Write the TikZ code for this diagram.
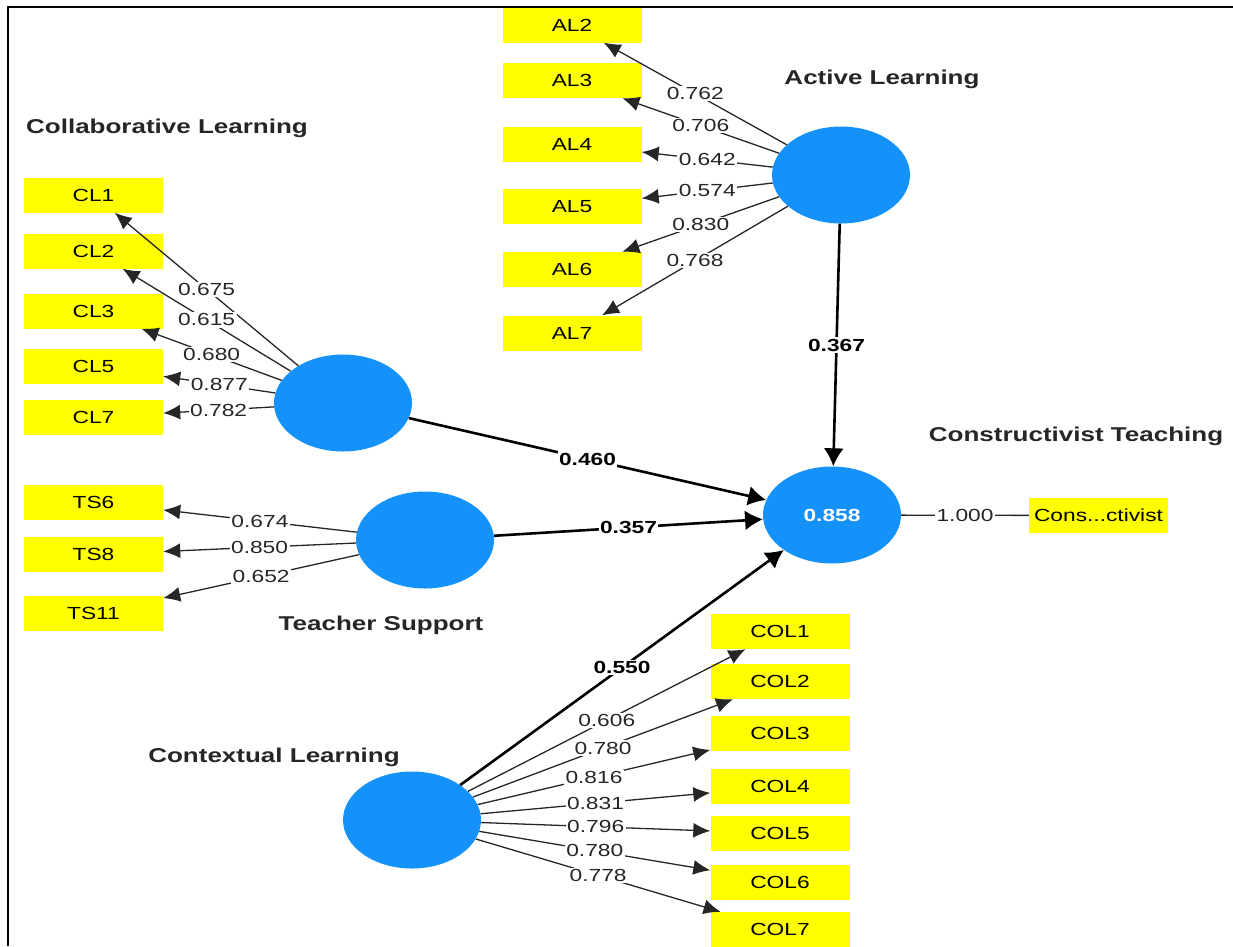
\documentclass[tikz,border=0pt]{standalone}
\usepackage{fontspec}
\setmainfont[FakeStretch=1.3]{Liberation Sans}
\usetikzlibrary{shapes.geometric,arrows.meta}
\definecolor{latblue}{RGB}{20,146,250}
\definecolor{indyellow}{RGB}{255,255,0}
\begin{document}
\begin{tikzpicture}[x=1pt,y=-1pt,
 lat/.style={ellipse,fill=latblue,minimum width=138pt,minimum height=97pt,inner sep=0pt},
 ind/.style={rectangle,fill=indyellow,minimum width=139pt,minimum height=35pt,inner sep=0pt,font=\fontsize{17.5}{20}\selectfont},
 ttl/.style={font=\fontsize{20}{24}\selectfont\bfseries,text=black!85},
 lbl/.style={fill=white,inner sep=1.5pt,font=\fontsize{17.5}{20}\selectfont,text=black!85},
 blbl/.style={fill=white,inner sep=1.5pt,font=\fontsize{17.5}{20}\selectfont\bfseries},
 ld/.style={draw=black!85,line width=1.3pt,-{Latex[length=17pt,width=15pt]}},
 sp/.style={draw=black,line width=2.6pt,-{Latex[length=18pt,width=20pt]}},
 plain/.style={draw=black!85,line width=1.3pt},
 frame/.style={draw=black,line width=2pt}
]
\useasboundingbox (0,0) rectangle (1233,946);
\draw[frame] (8,946) -- (8,6.5) -- (1233,6.5);

% latent variables
\node[lat] (AL) at (841,175) {};
\node[lat] (CL) at (343,403) {};
\node[lat] (TS) at (425,540) {};
\node[lat] (CT) at (832,515) {\fontsize{17.5}{20}\selectfont\bfseries\color{white}0.858};
\node[lat] (COL) at (412,820) {};

% titles
\node[ttl] (tAL) at (882,79) {Active Learning};
\node[ttl] (tCL) at (167,128) {Collaborative Learning};
\node[ttl] (tTS) at (381,625) {Teacher Support};
\node[ttl] (tCOL) at (274,757) {Contextual Learning};
\node[ttl] (tCT) at (1076,436) {Constructivist Teaching};

% indicators
\node[ind] (AL2) at (572,25) {AL2};
\node[ind] (AL3) at (572,80.5) {AL3};
\node[ind] (AL4) at (572,144) {AL4};
\node[ind] (AL5) at (572,206.5) {AL5};
\node[ind] (AL6) at (572,269.5) {AL6};
\node[ind] (AL7) at (572,333) {AL7};

\node[ind] (CL1) at (93.5,195) {CL1};
\node[ind] (CL2) at (93.5,251) {CL2};
\node[ind] (CL3) at (93.5,311) {CL3};
\node[ind] (CL5) at (93.5,366) {CL5};
\node[ind] (CL7) at (93.5,417) {CL7};

\node[ind] (TS6) at (93.5,502) {TS6};
\node[ind] (TS8) at (93.5,554.5) {TS8};
\node[ind] (TS11) at (93.5,613.5) {TS11};

\node[ind] (COL1) at (780,631.5) {COL1};
\node[ind] (COL2) at (780,681.5) {COL2};
\node[ind] (COL3) at (780,733.5) {COL3};
\node[ind] (COL4) at (780,786.5) {COL4};
\node[ind] (COL5) at (780,833.5) {COL5};
\node[ind] (COL6) at (780,882) {COL6};
\node[ind] (COL7) at (780,929.5) {COL7};

\node[ind] (CONS) at (1098.5,515.5) {Cons...ctivist};

% loadings
\draw[ld] (AL) -- node[lbl]{0.762} (AL2);
\draw[ld] (AL) -- node[lbl]{0.706} (AL3);
\draw[ld] (AL) -- node[lbl]{0.642} (AL4);
\draw[ld] (AL) -- node[lbl]{0.574} (AL5);
\draw[ld] (AL) -- node[lbl]{0.830} (AL6);
\draw[ld] (AL) -- node[lbl]{0.768} (AL7);

\draw[ld] (CL) -- node[lbl]{0.675} (CL1);
\draw[ld] (CL) -- node[lbl]{0.615} (CL2);
\draw[ld] (CL) -- node[lbl]{0.680} (CL3);
\draw[ld] (CL) -- node[lbl]{0.877} (CL5);
\draw[ld] (CL) -- node[lbl]{0.782} (CL7);

\draw[ld] (TS) -- node[lbl]{0.674} (TS6);
\draw[ld] (TS) -- node[lbl]{0.850} (TS8);
\draw[ld] (TS) -- node[lbl]{0.652} (TS11);

\draw[ld] (COL) -- node[lbl]{0.606} (COL1);
\draw[ld] (COL) -- node[lbl]{0.780} (COL2);
\draw[ld] (COL) -- node[lbl]{0.816} (COL3);
\draw[ld] (COL) -- node[lbl]{0.831} (COL4);
\draw[ld] (COL) -- node[lbl]{0.796} (COL5);
\draw[ld] (COL) -- node[lbl]{0.780} (COL6);
\draw[ld] (COL) -- node[lbl]{0.778} (COL7);

\draw[plain] (CT) -- node[lbl]{1.000} (CONS);

% structural paths
\draw[sp] (AL) -- node[blbl]{0.367} (CT);
\draw[sp] (CL) -- node[blbl]{0.460} (CT);
\draw[sp] (TS) -- node[blbl]{0.357} (CT);
\draw[sp] (COL) -- node[blbl]{0.550} (CT);
\end{tikzpicture}
\end{document}
